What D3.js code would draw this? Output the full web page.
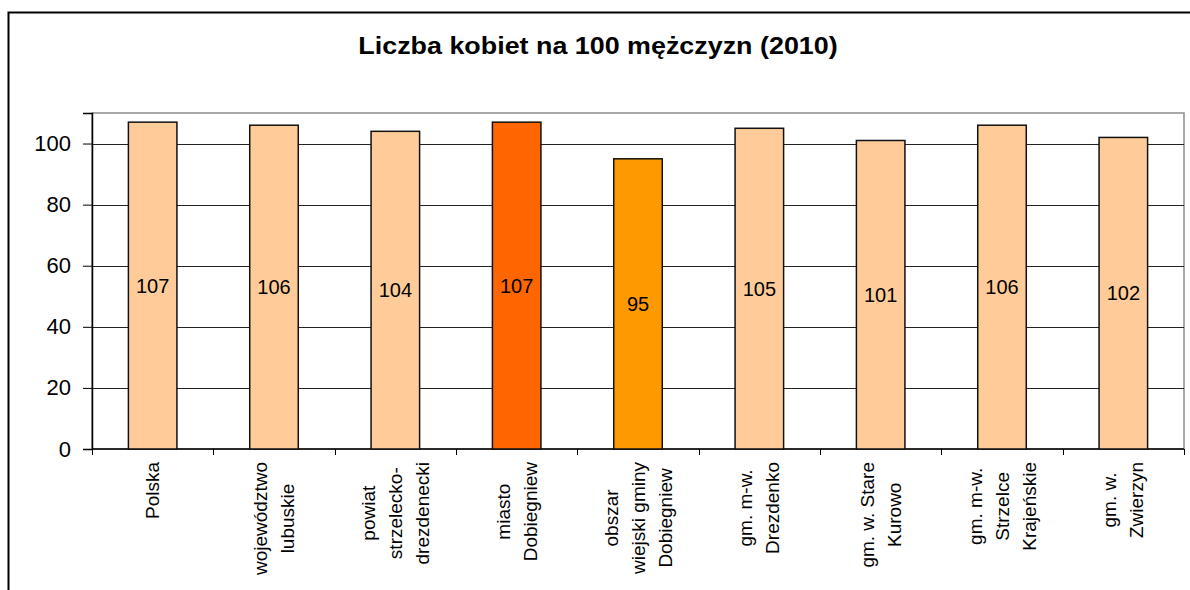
<!DOCTYPE html>
<html>
<head>
<meta charset="utf-8">
<script src="https://cdn.jsdelivr.net/npm/d3@7"></script>
<style>
  body { margin: 0; background: #fff; }
  svg { display: block; font-family: "Liberation Sans", Arial, sans-serif; }
</style>
</head>
<body>
<div id="chart"></div>
<script>
// data
const categories = [
  ["Polska"],
  ["województwo", "lubuskie"],
  ["powiat", "strzelecko-", "drezdenecki"],
  ["miasto", "Dobiegniew"],
  ["obszar", "wiejski gminy", "Dobiegniew"],
  ["gm. m-w.", "Drezdenko"],
  ["gm. w. Stare", "Kurowo"],
  ["gm. m-w.", "Strzelce", "Krajeńskie"],
  ["gm. w.", "Zwierzyn"]
];
const values = [107, 106, 104, 107, 95, 105, 101, 106, 102];
const barColors = ["#FFCC99", "#FFCC99", "#FFCC99", "#FF6600", "#FF9900", "#FFCC99", "#FFCC99", "#FFCC99", "#FFCC99"];
const yTicks = [0, 20, 40, 60, 80, 100];
const title = "Liczba kobiet na 100 mężczyzn (2010)";

const width = 1190, height = 590;
const plot = { left: 92, top: 113, right: 1184, bottom: 449 };

const svg = d3.select("#chart").append("svg")
  .attr("width", width)
  .attr("height", height);

// outer chart frame
svg.append("rect")
  .attr("x", 8.5).attr("y", 12.5)
  .attr("width", 1200).attr("height", 600)
  .attr("fill", "#fff")
  .attr("stroke", "#000")
  .attr("stroke-width", 2);

// title, slightly stretched like the original
svg.append("text")
  .attr("transform", "translate(598,54) scale(1.12,1)")
  .attr("text-anchor", "middle")
  .attr("font-size", 24)
  .attr("font-weight", "bold")
  .text(title);

const idx = d3.range(values.length);
const x = d3.scaleBand()
  .domain(idx)
  .range([plot.left, plot.right])
  .paddingInner(0.6)
  .paddingOuter(0.3);

const y = d3.scaleLinear()
  .domain([0, 110])
  .range([plot.bottom, plot.top]);

// plot area border (gray)
svg.append("rect")
  .attr("x", plot.left).attr("y", plot.top)
  .attr("width", plot.right - plot.left)
  .attr("height", plot.bottom - plot.top)
  .attr("fill", "none")
  .attr("stroke", "#8c8c8c")
  .attr("stroke-width", 1.5);

// gridlines
svg.append("g")
  .selectAll("line")
  .data(yTicks.filter(d => d > 0))
  .join("line")
  .attr("x1", plot.left).attr("x2", plot.right)
  .attr("y1", d => Math.round(y(d)) + 0.5)
  .attr("y2", d => Math.round(y(d)) + 0.5)
  .attr("stroke", "#222")
  .attr("stroke-width", 1);

// y axis
const yAxis = svg.append("g")
  .attr("transform", `translate(${plot.left},0)`)
  .call(d3.axisLeft(y).tickValues(yTicks).tickSize(9).tickPadding(12));
yAxis.select(".domain").attr("stroke", "#000").attr("stroke-width", 1.5);
yAxis.selectAll(".tick line").attr("stroke", "#000");
yAxis.selectAll(".tick text")
  .attr("font-size", 22)
  .attr("font-family", "Liberation Sans, Arial, sans-serif")
  .attr("fill", "#000");

// x axis line and category boundary ticks
const boundaries = d3.range(values.length + 1).map(i => plot.left + i * (plot.right - plot.left) / values.length);
svg.append("line")
  .attr("x1", plot.left).attr("x2", plot.right)
  .attr("y1", plot.bottom).attr("y2", plot.bottom)
  .attr("stroke", "#000").attr("stroke-width", 1.5);
svg.append("g")
  .selectAll("line")
  .data(boundaries)
  .join("line")
  .attr("x1", d => Math.round(d) + 0.5).attr("x2", d => Math.round(d) + 0.5)
  .attr("y1", plot.bottom).attr("y2", plot.bottom + 6)
  .attr("stroke", "#000");

// bars
svg.append("g")
  .selectAll("rect")
  .data(idx)
  .join("rect")
  .attr("x", i => x(i))
  .attr("y", i => y(values[i]))
  .attr("width", x.bandwidth())
  .attr("height", i => y(0) - y(values[i]))
  .attr("fill", i => barColors[i])
  .attr("stroke", "#111")
  .attr("stroke-width", 1.5);

// value labels
svg.append("g")
  .selectAll("text")
  .data(idx)
  .join("text")
  .attr("x", i => x(i) + x.bandwidth() / 2)
  .attr("y", i => (y(values[i]) + y(0)) / 2)
  .attr("dy", "0.35em")
  .attr("text-anchor", "middle")
  .attr("font-size", 20)
  .text(i => values[i]);

// category labels, rotated, lines centred on the longest one
const lineGap = 27;
const labelTop = plot.bottom + 13;
idx.forEach(i => {
  const lines = categories[i];
  const cx = x(i) + x.bandwidth() / 2;
  const g = svg.append("g");
  const texts = lines.map(t => g.append("text")
    .attr("font-size", 19)
    .attr("text-anchor", "middle")
    .attr("dominant-baseline", "central")
    .text(t));
  const maxLen = d3.max(texts, t => t.node().getComputedTextLength());
  texts.forEach((t, j) => {
    const lx = cx + (j - (lines.length - 1) / 2) * lineGap;
    const ly = labelTop + maxLen / 2;
    t.attr("transform", `translate(${lx},${ly}) rotate(-90)`);
  });
});
</script>
</body>
</html>
